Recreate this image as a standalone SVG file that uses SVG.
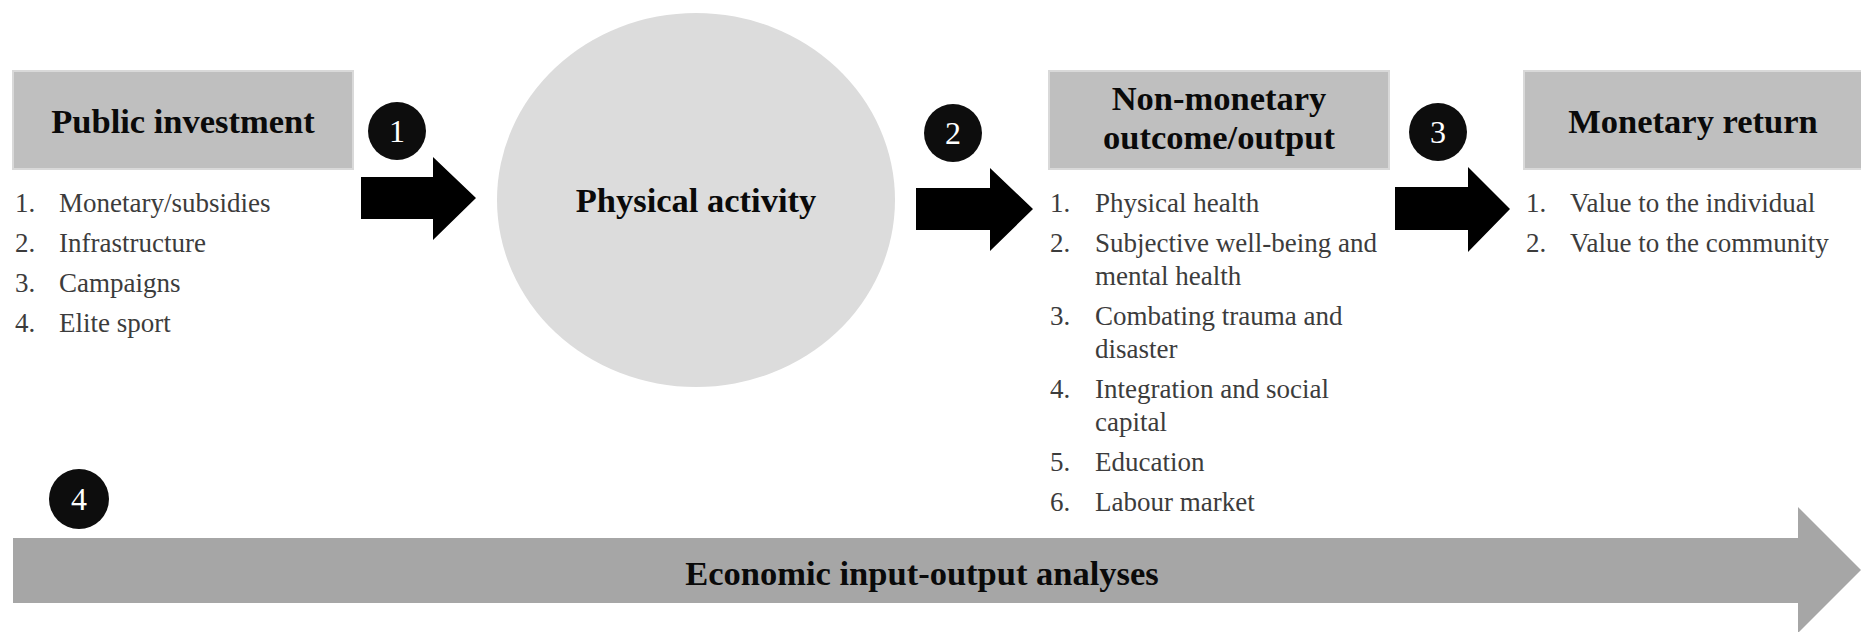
<svg xmlns="http://www.w3.org/2000/svg" width="1861" height="632" viewBox="0 0 1861 632">
  <style>
    .box { fill: #bfbfbf; stroke: #d9d9d9; stroke-width: 2; }
    .title { font-family: "Liberation Serif", "Times New Roman", serif; font-weight: bold; font-size: 34.5px; fill: #0a0a0a; text-anchor: middle; }
    .item { font-family: "Liberation Serif", "Times New Roman", serif; font-size: 27px; fill: #3c3c3c; }
    .badge { fill: #0d0d0d; }
    .badge-num { font-family: "Liberation Serif", "Times New Roman", serif; font-size: 32px; fill: #ffffff; text-anchor: middle; }
    .flow { fill: #000000; }
    .band { fill: #a6a6a6; }
  </style>

  <rect width="1861" height="632" fill="#ffffff"/>

  <!-- Connectors: block arrows between stages and the full-width band -->
  <g id="connectors">
    <path id="arrow-1" class="flow" d="M361,177 H433 V157 L476,198 L433,240 V219 H361 Z"/>
    <path id="arrow-2" class="flow" d="M916,188 H990 V168 L1033,209 L990,251 V230 H916 Z"/>
    <path id="arrow-3" class="flow" d="M1395,187 H1468 V167 L1510,209 L1468,252 V230 H1395 Z"/>
    <path id="arrow-4" class="band" d="M13,538 H1798 V507 L1861,570 L1798,633 V603 H13 Z"/>
    <text class="title" x="922" y="585">Economic input-output analyses</text>
  </g>

  <!-- Step badges -->
  <g id="step-1">
    <circle class="badge" cx="397" cy="131" r="29"/>
    <text class="badge-num" x="397" y="142">1</text>
  </g>
  <g id="step-2">
    <circle class="badge" cx="953" cy="133" r="29"/>
    <text class="badge-num" x="953" y="144">2</text>
  </g>
  <g id="step-3">
    <circle class="badge" cx="1438" cy="132" r="29"/>
    <text class="badge-num" x="1438" y="143">3</text>
  </g>
  <g id="step-4">
    <circle class="badge" cx="79" cy="499" r="30"/>
    <text class="badge-num" x="79" y="510">4</text>
  </g>

  <!-- Public investment -->
  <g id="public-investment">
    <rect class="box" x="13" y="71" width="340" height="98"/>
    <text class="title" x="183" y="133">Public investment</text>
    <text class="item" x="15" y="212">1.</text><text class="item" x="59" y="212">Monetary/subsidies</text>
    <text class="item" x="15" y="252">2.</text><text class="item" x="59" y="252">Infrastructure</text>
    <text class="item" x="15" y="292">3.</text><text class="item" x="59" y="292">Campaigns</text>
    <text class="item" x="15" y="332">4.</text><text class="item" x="59" y="332">Elite sport</text>
  </g>

  <!-- Physical activity -->
  <g id="physical-activity">
    <ellipse cx="696" cy="200" rx="199" ry="187" fill="#dcdcdc"/>
    <text class="title" x="696" y="212">Physical activity</text>
  </g>

  <!-- Non-monetary outcome/output -->
  <g id="non-monetary">
    <rect class="box" x="1049" y="71" width="340" height="98"/>
    <text class="title" x="1219" y="110">Non-monetary</text>
    <text class="title" x="1219" y="149">outcome/output</text>
    <text class="item" x="1050" y="212">1.</text><text class="item" x="1095" y="212">Physical health</text>
    <text class="item" x="1050" y="252">2.</text><text class="item" x="1095" y="252">Subjective well-being and</text>
    <text class="item" x="1095" y="285">mental health</text>
    <text class="item" x="1050" y="325">3.</text><text class="item" x="1095" y="325">Combating trauma and</text>
    <text class="item" x="1095" y="358">disaster</text>
    <text class="item" x="1050" y="398">4.</text><text class="item" x="1095" y="398">Integration and social</text>
    <text class="item" x="1095" y="431">capital</text>
    <text class="item" x="1050" y="471">5.</text><text class="item" x="1095" y="471">Education</text>
    <text class="item" x="1050" y="511">6.</text><text class="item" x="1095" y="511">Labour market</text>
  </g>

  <!-- Monetary return -->
  <g id="monetary-return">
    <rect class="box" x="1524" y="71" width="340" height="98"/>
    <text class="title" x="1693" y="133">Monetary return</text>
    <text class="item" x="1526" y="212">1.</text><text class="item" x="1570" y="212">Value to the individual</text>
    <text class="item" x="1526" y="252">2.</text><text class="item" x="1570" y="252">Value to the community</text>
  </g>
</svg>
